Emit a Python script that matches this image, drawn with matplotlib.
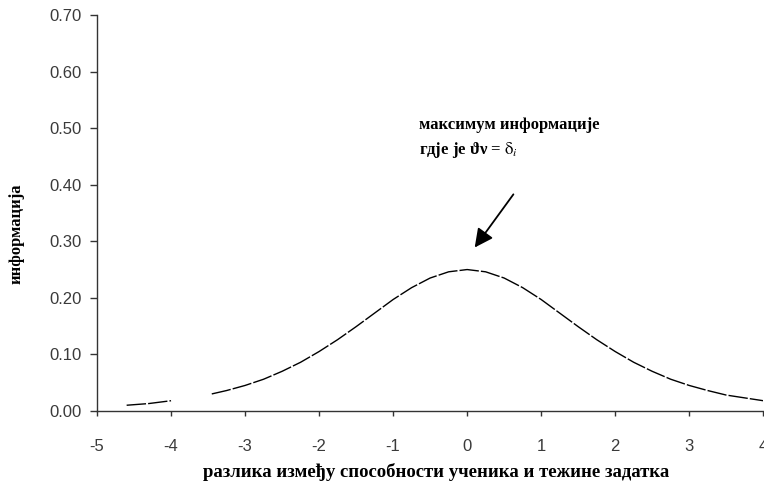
import numpy as np
import matplotlib
matplotlib.use('Agg')
import matplotlib.pyplot as plt

# ocitane vrijednosti sa slike (prekid oko -3.7 kao na originalu)
razlika = [-4.6, -4.3, -4.0, -3.75, -3.45, -3.25, -3.0, -2.75, -2.5, -2.25, -2.0, -1.75, -1.5,
           -1.25, -1.0, -0.75, -0.5, -0.25, 0.0, 0.25, 0.5, 0.75, 1.0, 1.25, 1.5,
           1.75, 2.0, 2.25, 2.5, 2.75, 3.0, 3.25, 3.5, 3.75, 4.0]
informacija = [0.010, 0.013, 0.018, np.nan, 0.030, 0.036, 0.045, 0.056, 0.070, 0.086, 0.105, 0.126, 0.149,
               0.173, 0.197, 0.218, 0.235, 0.246, 0.250, 0.246, 0.235, 0.218, 0.197, 0.173, 0.149,
               0.126, 0.105, 0.086, 0.070, 0.056, 0.045, 0.036, 0.028, 0.023, 0.018]

x_ticks = [-5, -4, -3, -2, -1, 0, 1, 2, 3, 4]
y_ticks = [0.0, 0.1, 0.2, 0.3, 0.4, 0.5, 0.6, 0.7]

plt.rcParams['mathtext.fontset'] = 'stix'

fig = plt.figure(figsize=(7.64, 4.88), dpi=100)
ax = fig.add_axes([0.127, 0.158, 0.872, 0.811])

ax.plot(razlika, informacija, color='black', linewidth=1.0, linestyle=(0, (14, 1.5)))

ax.set_xlim(-5, 4)
ax.set_ylim(0, 0.7)
ax.set_xticks(x_ticks)
ax.set_xticklabels([str(t) for t in x_ticks])
ax.set_yticks(y_ticks)
ax.set_yticklabels(['%.2f' % t for t in y_ticks])
ax.spines['top'].set_visible(False)
ax.spines['right'].set_visible(False)
for s in ['left', 'bottom']:
    ax.spines[s].set_color('#333333')
    ax.spines[s].set_linewidth(1.0)
ax.tick_params(axis='y', direction='out', length=5, width=1, pad=6,
               labelsize=12, labelcolor='#3a3a3a', color='#333333')
ax.tick_params(axis='x', direction='out', length=3.5, width=1, pad=17,
               labelsize=12, labelcolor='#3a3a3a', color='#333333')
for lab in ax.get_xticklabels() + ax.get_yticklabels():
    lab.set_family('Liberation Sans')

serif = dict(family=['Liberation Serif', 'DejaVu Serif'], fontweight='bold')
fig.text(0.571, 0.033, 'разлика између способности ученика и тежине задатка',
         ha='center', va='center', fontsize=13.5, **serif)
fig.text(0.022, 0.52, 'информација', rotation=90, ha='center', va='center',
         fontsize=12, **serif)

ax.text(-0.65, 0.506, 'максимум информације', ha='left', va='center', fontsize=12, **serif)
ax.text(-0.65, 0.461, 'гдје је ϑν = $\\mathrm{\\delta}_i$',
        ha='left', va='center', fontsize=12, **serif)
ax.annotate('', xy=(0.08, 0.285), xytext=(0.647, 0.387),
            arrowprops=dict(arrowstyle='-|>', mutation_scale=28, lw=1.3, color='black'))

plt.savefig('out.png', dpi=100)
